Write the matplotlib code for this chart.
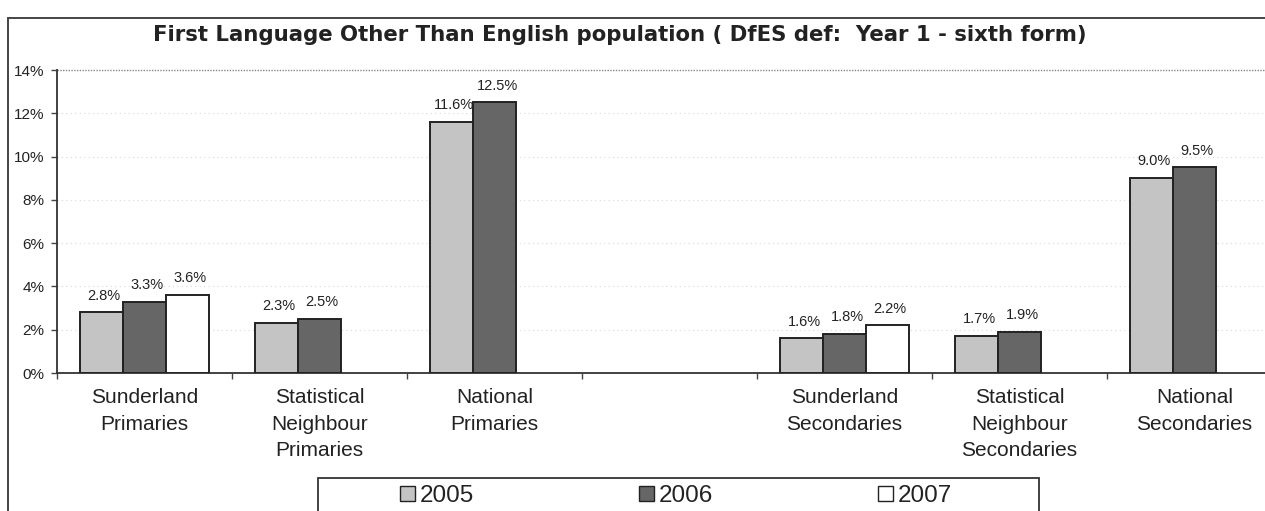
import numpy as np
import matplotlib
matplotlib.use("Agg")
import matplotlib.pyplot as plt
from matplotlib.patches import Rectangle, Patch

plt.rcParams['font.family'] = ['Liberation Sans', 'DejaVu Sans']

categories = ['Sunderland\nPrimaries', 'Statistical\nNeighbour\nPrimaries', 'National\nPrimaries', '',
              'Sunderland\nSecondaries', 'Statistical\nNeighbour\nSecondaries', 'National\nSecondaries']
years = ['2005', '2006', '2007']
v2005 = [2.8, 2.3, 11.6, np.nan, 1.6, 1.7, 9.0]
v2006 = [3.3, 2.5, 12.5, np.nan, 1.8, 1.9, 9.5]
v2007 = [3.6, np.nan, np.nan, np.nan, 2.2, np.nan, np.nan]
yticks = [0, 2, 4, 6, 8, 10, 12, 14]

colors = ['#c4c4c4', '#666666', '#ffffff']

W, H = 1265, 511
fig = plt.figure(figsize=(W / 100, H / 100), dpi=100)
ax = fig.add_axes([57 / W, 1 - 373 / H, (1282 - 57) / W, (373 - 70) / H])

x = np.arange(len(categories))
bw = 0.246
series = [v2005, v2006, v2007]
for i, vals in enumerate(series):
    pos = x + (i - 1) * bw
    vals = np.array(vals, dtype=float)
    ok = ~np.isnan(vals)
    ax.bar(pos[ok], vals[ok], width=bw, color=colors[i], edgecolor='#222222',
           linewidth=1.4, zorder=3, label=years[i])
    for px, v in zip(pos[ok], vals[ok]):
        ax.text(px + 0.015, v + 0.45, f'{v:.1f}%', ha='center', va='bottom',
                fontsize=10.5, color='#222222')

ax.set_xlim(-0.5, len(categories) - 0.5)
ax.set_ylim(0, 14)
ax.set_yticks(yticks)
ax.set_yticklabels([f'{t}%' for t in yticks], fontsize=11, color='#222222')
ax.set_xticks(x)
ax.set_xticklabels(categories, fontsize=15, color='#222222', linespacing=1.5, va='top')
ax.tick_params(axis='x', length=0, pad=11)
ax.set_xticks(np.arange(-0.5, len(categories), 1.0), minor=True)
ax.tick_params(axis='x', which='minor', length=4, width=1, color='#444444', direction='out')
ax.tick_params(axis='y', length=4, width=1, color='#444444', direction='out', pad=5)

for t in yticks[1:-1]:
    ax.axhline(t, color='#d8d8d8', lw=0.8, ls=(0, (1, 3)), zorder=1)
ax.axhline(14, color='#888888', lw=1.0, ls=(0, (1, 1)), zorder=1, clip_on=False)

for s in ['top', 'right']:
    ax.spines[s].set_visible(False)
ax.spines['left'].set_color('#333333')
ax.spines['left'].set_linewidth(1.3)
ax.spines['bottom'].set_color('#333333')
ax.spines['bottom'].set_linewidth(1.3)

fig.text(620 / W, 1 - 35 / H, 'First Language Other Than English population ( DfES def:  Year 1 - sixth form)',
         ha='center', va='center', fontsize=15.3, fontweight='bold', color='#222222',
         family='DejaVu Sans')

# outer chart border
fig.patches.append(Rectangle((8 / W, -0.1), 1.2, 1.1 - 18 / H, transform=fig.transFigure,
                             fill=False, edgecolor='#444444', lw=1.4))

# legend box
fig.patches.append(Rectangle((318 / W, -0.1), (1039 - 318) / W, 0.1 + 1 - 478 / H,
                             transform=fig.transFigure, fill=False, edgecolor='#333333', lw=1.3))
handles = [Patch(facecolor=colors[i], edgecolor='#222222', lw=1.0, label=years[i]) for i in range(3)]
leg = fig.legend(handles=handles, loc='upper left', bbox_to_anchor=(388 / W, 1 - 473 / H),
                 ncol=3, frameon=False, fontsize=17.5, handlelength=0.6, handleheight=0.6,
                 handletextpad=0.2, columnspacing=6.8, borderpad=0.0)
for t in leg.get_texts():
    t.set_color('#222222')

fig.savefig('out.png', dpi=100)
